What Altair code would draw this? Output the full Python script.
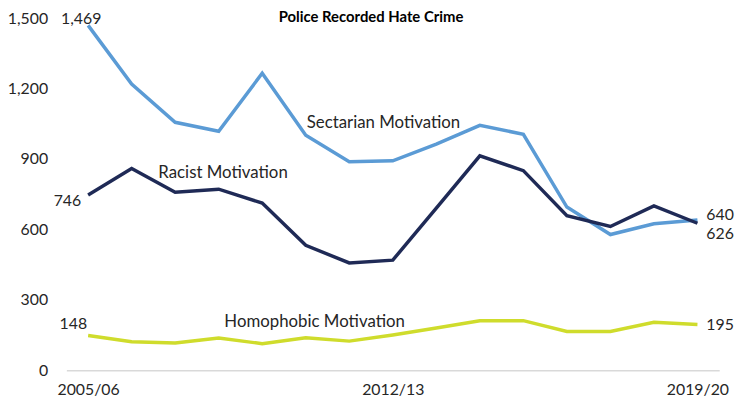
import altair as alt
import pandas as pd

years = ["2005/06", "2006/07", "2007/08", "2008/09", "2009/10", "2010/11", "2011/12",
         "2012/13", "2013/14", "2014/15", "2015/16", "2016/17", "2017/18", "2018/19", "2019/20"]
sectarian = [1469, 1219, 1056, 1018, 1265, 1001, 888, 892, 963, 1043, 1005, 695, 578, 624, 640]
racist = [746, 859, 758, 771, 712, 532, 457, 469, 690, 913, 850, 658, 612, 700, 626]
homophobic = [148, 121, 116, 137, 113, 138, 124, 150, 180, 211, 211, 165, 165, 204, 195]
series_names = ["Sectarian Motivation", "Racist Motivation", "Homophobic Motivation"]
colors = ["#5B9BD5", "#1F2A56", "#CFDC2C"]
shown_years = ["2005/06", "2012/13", "2019/20"]
title_text = "Police Recorded Hate Crime"

rows = []
for name, vals in zip(series_names, [sectarian, racist, homophobic]):
    for i, (yr, v) in enumerate(zip(years, vals)):
        rows.append({"year": yr, "idx": i, "value": v, "series": name,
                     "label": f"{v:,}"})
df = pd.DataFrame(rows)

FONT = "Lato"
TXT = "#262626"

x_enc = alt.X("year:N", sort=years, title=None,
              scale=alt.Scale(type="point", padding=0.5),
              axis=alt.Axis(values=shown_years, labelAngle=0, ticks=False,
                            domainColor="#D9D9D9", domainWidth=1.5,
                            labelPadding=12, labelFontSize=16, labelFont=FONT,
                            labelColor=TXT, grid=False))
y_enc = alt.Y("value:Q", title=None,
              scale=alt.Scale(domain=[0, 1500], nice=False),
              axis=alt.Axis(values=[0, 300, 600, 900, 1200, 1500], format=",.0f",
                            domain=False, ticks=False, grid=False,
                            labelPadding=19, labelFontSize=16, labelFont=FONT,
                            labelColor=TXT))

base = alt.Chart(df)

lines = base.mark_line(strokeWidth=3.5).encode(
    x=x_enc, y=y_enc,
    color=alt.Color("series:N", scale=alt.Scale(domain=series_names, range=colors),
                    legend=None),
    detail="series:N",
)

def txt(filter_expr, text_field, size=16, **kw):
    return base.transform_filter(filter_expr).mark_text(
        font=FONT, fontSize=size, color=TXT, **kw
    ).encode(x=alt.X("year:N", sort=years), y="value:Q", text=f"{text_field}:N")

labels = [
    txt("datum.series == 'Sectarian Motivation' && datum.idx == 0", "label",
        align="center", dx=-7, dy=-6),
    txt("datum.series == 'Racist Motivation' && datum.idx == 0", "label",
        align="right", dx=-7, dy=6),
    txt("datum.series == 'Homophobic Motivation' && datum.idx == 0", "label",
        align="right", dx=-1, dy=-12),
    txt("datum.series == 'Sectarian Motivation' && datum.idx == 14", "label",
        align="left", dx=9, dy=-5),
    txt("datum.series == 'Racist Motivation' && datum.idx == 14", "label",
        align="left", dx=9, dy=11),
    txt("datum.series == 'Homophobic Motivation' && datum.idx == 14", "label",
        align="left", dx=9, dy=1),
    txt("datum.series == 'Sectarian Motivation' && datum.idx == 5", "series",
        size=17, align="left", dx=1, dy=-12),
    txt("datum.series == 'Racist Motivation' && datum.idx == 2", "series",
        size=17, align="left", dx=-17, dy=-19),
    txt("datum.series == 'Homophobic Motivation' && datum.idx == 5", "series",
        size=17, align="center", dx=9, dy=-16),
]

title = alt.Chart(pd.DataFrame({"t": [title_text]})).mark_text(
    font=FONT, fontSize=15, fontWeight="bold", color="#000000",
    baseline="top", align="center"
).encode(x=alt.value(308), y=alt.value(-8), text="t:N")

chart = alt.layer(lines, *labels, title).properties(
    width=660, height=356,
    padding={"left": 59, "top": 8, "right": 19, "bottom": 34},
    autosize=alt.AutoSizeParams(type="none"),
    background="white",
).configure_view(stroke=None)

chart.save("out.html", embed_options={"renderer": "svg", "actions": False})
